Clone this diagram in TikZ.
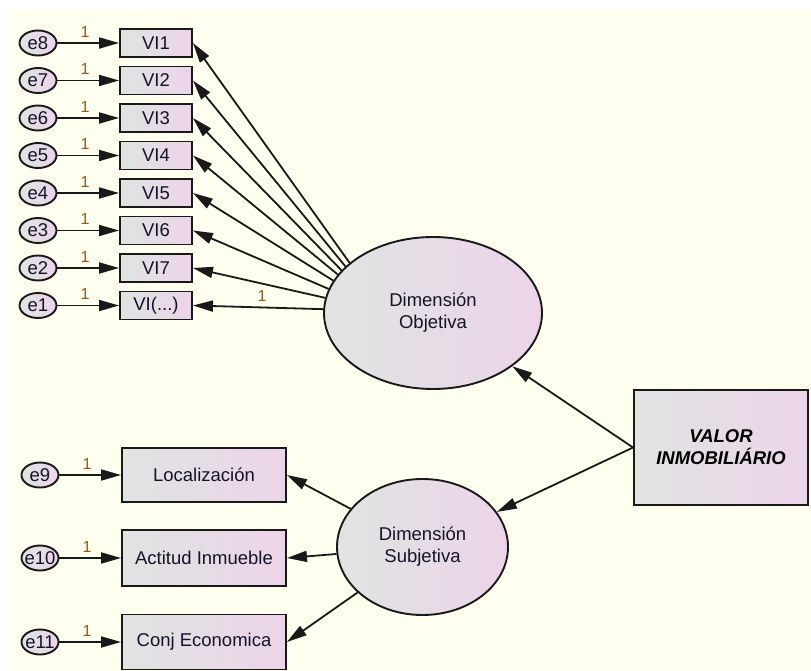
\documentclass[tikz,border=0pt]{standalone}
\usepackage{fontspec}
\setmainfont{Liberation Sans}
\usetikzlibrary{shapes.geometric,arrows.meta}
\definecolor{paper}{RGB}{255,255,240}
\definecolor{ink}{RGB}{25,25,25}
\definecolor{fillL}{RGB}{224,228,226}
\definecolor{fillR}{RGB}{236,212,232}
\definecolor{wt}{RGB}{160,85,20}
\definecolor{txt}{RGB}{20,20,40}

\begin{document}
\begin{tikzpicture}[x=1pt,y=-1pt,
  every node/.style={text=txt, font=\fontsize{18.5}{22}\selectfont},
  shaded/.style={draw=ink, line width=1.9pt, left color=fillL, right color=fillR, inner sep=0pt},
  obs/.style={shaded, rectangle},
  vibox/.style={obs, minimum width=72pt, minimum height=28pt},
  err/.style={shaded, ellipse, minimum width=37pt, minimum height=25pt},
  lat/.style={shaded, ellipse, align=center},
  arr/.style={draw=ink, line width=1.8pt, -{Triangle[length=20pt,width=11pt]}},
  one/.style={text=wt, font=\fontsize{16}{16}\selectfont, inner sep=0pt, above=5pt},
]
% canvas
\fill[paper] (10,10) rectangle (811,671);
\useasboundingbox (0,0) rectangle (811,671);

% objective dimension: indicators VI1..VI7 with their errors
\foreach \k/\e/\v in {0/8/1,1/7/2,2/6/3,3/5/4,4/4/5,5/3/6,6/2/7}{
  \pgfmathsetmacro\yy{43+37.5*\k}
  \node[err, label=center:e\e] (e\e) at (38,\yy) {};
  \node[vibox] (vi\v) at (156,\yy) {VI\v};
  \draw[arr] (e\e) -- node[one, pos=0.45] {1} (vi\v);
}
\node[err, label=center:e1] (e1) at (38,305.5) {};
\node[vibox] (vi8) at (156,305.5) {VI(...)};
\draw[arr] (e1) -- node[one, pos=0.45] {1} (vi8);

\node[lat, minimum width=218pt, minimum height=152pt] (obj) at (433,313) {Dimensión\\Objetiva};

\draw[arr] (obj.149.8) -- (vi1.east);
\draw[arr] (obj.152.2) -- (vi2.east);
\draw[arr] (obj.155.0) -- (vi3.east);
\draw[arr] (obj.158.4) -- (vi4.east);
\draw[arr] (obj.162.4) -- (vi5.east);
\draw[arr] (obj.167.2) -- (vi6.east);
\draw[arr] (obj.172.7) -- (vi7.east);
\draw[arr] (obj.178.8) -- node[one, pos=0.47] {1} (vi8.east);

% subjective dimension
\node[lat, minimum width=171pt, minimum height=136pt] (sub) at (422.5,547) {Dimensión\\Subjetiva};

\node[obs, minimum width=164pt, minimum height=54pt] (loc) at (204,475) {Localización};
\node[obs, minimum width=164pt, minimum height=56pt] (act) at (204,558) {Actitud Inmueble};
\node[obs, minimum width=164pt, minimum height=55pt] (conj) at (204,642) {Conj Economica};

\node[err, label=center:e9] (e9) at (40,475) {};
\node[err, label=center:e10] (e10) at (40,558) {};
\node[err, label=center:e11] (e11) at (40,642) {};

\draw[arr] (e9) -- node[one, pos=0.45] {1} (loc);
\draw[arr] (e10) -- node[one, pos=0.45] {1} (act);
\draw[arr] (e11) -- node[one, pos=0.45] {1} (conj);

\draw[arr] (sub) -- (loc.east);
\draw[arr] (sub) -- (act.east);
\draw[arr] (sub) -- (conj.east);

% overall construct
\node[obs, minimum width=174pt, minimum height=115pt, align=center, text=black,
      font=\fontsize{18.5}{22}\selectfont\bfseries\itshape] (valor) at (721,447.5) {VALOR\\INMOBILIÁRIO};

\draw[arr] (valor.west) -- (obj);
\draw[arr] (valor.west) -- (sub);
\end{tikzpicture}
\end{document}
